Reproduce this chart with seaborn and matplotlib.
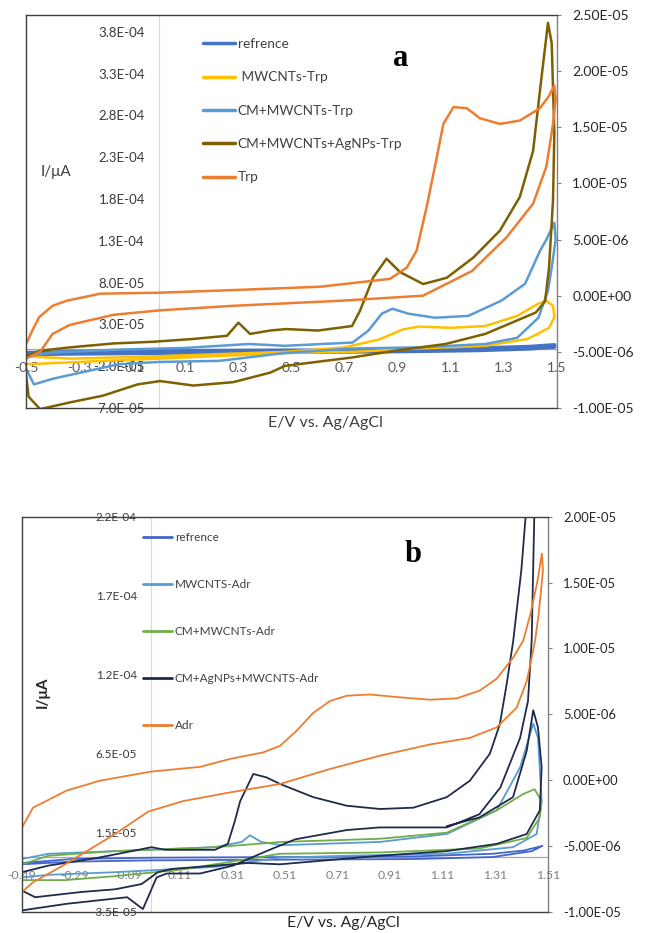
import numpy as np
import pandas as pd
import matplotlib
matplotlib.use("Agg")
import matplotlib.pyplot as plt
import seaborn as sns
from matplotlib.lines import Line2D

sns.set_style("white")
plt.rcParams['font.family'] = ['Lato', 'DejaVu Sans']

SCALE = 1e-6  # currents below are in units of 1e-6 A (right axis)

# ---------------- Panel a (Trp) ----------------
A_NAMES = ["refrence", " MWCNTs-Trp", "CM+MWCNTs-Trp", "CM+MWCNTs+AgNPs-Trp", "Trp"]
A_COLORS = ["#4472C4", "#FFC000", "#5B9BD5", "#7F6000", "#ED7D31"]

ref_a_E = [-0.5, -0.3, 0.0, 0.3, 0.6, 0.9, 1.2, 1.4, 1.49, 1.49, 1.4, 1.2, 0.9, 0.6, 0.3, 0.0, -0.3, -0.5]
ref_a_I = [-5.1, -5.0, -4.95, -4.9, -4.88, -4.82, -4.7, -4.55, -4.4, -4.55, -4.7, -4.85, -4.95, -5.0, -5.05, -5.1, -5.15, -5.2]

mw_a_E = [-0.5, -0.33, -0.08, 0.23, 0.475, 0.70, 0.83, 0.92, 0.98, 1.10, 1.23, 1.35, 1.43, 1.46, 1.485,
          1.49, 1.47, 1.39, 1.23, 0.98, 0.73, 0.475, 0.2, -0.1, -0.3, -0.5]
mw_a_I = [-5.4, -5.6, -5.45, -5.2, -5.0, -4.6, -3.9, -3.0, -2.75, -2.86, -2.7, -1.8, -0.7, -0.45, -0.9,
          -1.9, -2.86, -3.85, -4.46, -4.7, -5.0, -5.1, -5.4, -5.7, -5.9, -6.1]

cm_a_E = [-0.5, -0.4, -0.15, 0.1, 0.34, 0.475, 0.73, 0.79, 0.84, 0.88, 0.94, 1.04, 1.165, 1.29, 1.38, 1.436, 1.46, 1.49,
          1.495, 1.48, 1.466, 1.43, 1.35, 1.23, 0.98, 0.73, 0.475, 0.23, 0.0, -0.15, -0.4, -0.47, -0.5]
cm_a_I = [-5.4, -5.06, -4.8, -4.65, -4.3, -4.46, -4.17, -3.1, -1.6, -1.16, -1.6, -1.96, -1.8, -0.45, 1.07, 4.0, 5.0, 6.5,
          5.0, 2.5, 0.45, -1.96, -3.75, -4.3, -4.6, -4.7, -5.1, -5.8, -5.9, -6.1, -7.4, -7.9, -6.5]

ag_a_E = [-0.5, -0.447, -0.334, -0.17, -0.02, 0.13, 0.257, 0.30, 0.344, 0.42, 0.48, 0.60, 0.728, 0.758, 0.807, 0.858,
          0.909, 0.996, 1.085, 1.185, 1.285, 1.36, 1.41, 1.436, 1.466,
          1.48, 1.49, 1.485, 1.47, 1.455, 1.42, 1.35, 1.23, 1.08, 0.89, 0.728, 0.475, 0.42, 0.28, 0.13, 0.005, -0.08,
          -0.21, -0.334, -0.447, -0.49, -0.5]
ag_a_I = [-5.4, -4.9, -4.6, -4.25, -4.1, -3.85, -3.57, -2.4, -3.4, -3.1, -2.97, -3.1, -2.7, -1.34, 1.6, 3.3,
          2.1, 1.04, 1.6, 3.4, 5.8, 8.8, 12.9, 18.3, 24.3,
          22.5, 14.5, 8.5, 2.5, -0.5, -1.5, -2.2, -3.4, -4.3, -4.9, -5.5, -6.25, -6.85, -7.7, -8.0, -7.6, -7.9,
          -8.9, -9.5, -10.1, -9.0, -7.0]

trp_a_E = [-0.5, -0.47, -0.45, -0.4, -0.347, -0.22, 0.005, 0.28, 0.607, 0.871, 0.934, 0.971, 1.009, 1.047, 1.072,
           1.11, 1.16, 1.21, 1.285, 1.36, 1.436, 1.47, 1.49,
           1.495, 1.485, 1.46, 1.41, 1.31, 1.18, 0.995, 0.683, 0.28, 0.005, -0.17, -0.335, -0.40, -0.447, -0.5]
trp_a_I = [-4.3, -2.8, -1.9, -0.9, -0.45, 0.18, 0.27, 0.5, 0.8, 1.5, 2.5, 4.0, 7.9, 12.3, 15.3,
           16.8, 16.7, 15.8, 15.3, 15.6, 16.7, 17.8, 18.7,
           17.5, 15.3, 11.5, 8.2, 5.2, 2.2, 0.0, -0.45, -0.9, -1.3, -1.7, -2.6, -3.4, -5.0, -5.6]

A_DATA = [(ref_a_E, ref_a_I), (mw_a_E, mw_a_I), (cm_a_E, cm_a_I), (ag_a_E, ag_a_I), (trp_a_E, trp_a_I)]
A_LW = [3.0, 1.8, 1.8, 1.8, 1.8]

A_XTICKS = [-0.5, -0.3, -0.1, 0.1, 0.3, 0.5, 0.7, 0.9, 1.1, 1.3, 1.5]
A_XTICKLABELS = ["-0.5", "-0.3", "-0.1", "0.1", "0.3", "0.5", "0.7", "0.9", "1.1", "1.3", "1.5"]
A_LTICKS = [-7e-5, -2e-5, 3e-5, 8e-5, 1.3e-4, 1.8e-4, 2.3e-4, 2.8e-4, 3.3e-4, 3.8e-4]
A_LTICKLABELS = ["-7.0E-05", "-2.0E-05", "3.0E-05", "8.0E-05", "1.3E-04", "1.8E-04", "2.3E-04", "2.8E-04",
                 "3.3E-04", "3.8E-04"]
A_RTICKS = [-1.0e-5, -5.0e-6, 0.0, 5.0e-6, 1.0e-5, 1.5e-5, 2.0e-5, 2.5e-5]

# ---------------- Panel b (Adr) ----------------
B_NAMES = ["refrence", "MWCNTS-Adr", "CM+MWCNTs-Adr", "CM+AgNPs+MWCNTS-Adr", "Adr"]
B_COLORS = ["#4466CC", "#5B9BD5", "#70AD47", "#1E2B4A", "#ED7D31"]

ref_b_E = [-0.49, -0.3, 0.0, 0.5, 1.0, 1.3, 1.42, 1.49, 1.45, 1.3, 1.0, 0.5, 0.0, -0.3, -0.49]
ref_b_I = [-6.3, -6.0, -5.9, -5.85, -5.8, -5.6, -5.35, -5.0, -5.4, -5.85, -6.0, -6.05, -6.1, -6.2, -6.4]

mw_b_E = [-0.49, -0.39, -0.136, 0.244, 0.346, 0.377, 0.42, 0.498, 0.872, 1.126, 1.316, 1.405, 1.455,
          1.473, 1.487, 1.468, 1.378, 1.126, 0.745, 0.49, 0.244, -0.136, -0.39, -0.49]
mw_b_I = [-6.0, -5.6, -5.4, -5.1, -4.7, -4.2, -4.7, -4.95, -4.7, -4.1, -2.3, 0.96, 4.3,
          3.2, -1.6, -4.1, -5.1, -5.6, -5.75, -5.9, -6.6, -7.0, -7.2, -7.4]

gr_b_E = [-0.49, -0.39, -0.136, 0.244, 0.498, 0.872, 1.126, 1.316, 1.416, 1.46,
          1.487, 1.48, 1.43, 1.25, 0.872, 0.491, 0.37, 0.117, -0.136, -0.326, -0.49]
gr_b_I = [-6.4, -5.75, -5.4, -5.1, -4.7, -4.46, -4.0, -2.3, -1.07, -0.7,
          -1.6, -2.84, -4.4, -5.2, -5.5, -5.6, -6.0, -6.8, -7.3, -7.6, -7.6]

ag_b_E = [-0.49, -0.39, -0.20, -0.073, 0.003, 0.054, 0.244, 0.293, 0.32, 0.34, 0.39, 0.44, 0.492, 0.618, 0.745,
          0.872, 0.999, 1.126, 1.214, 1.29, 1.328, 1.354, 1.379, 1.41, 1.43,
          1.46, 1.449, 1.435, 1.405, 1.33, 1.25, 1.126, 0.87, 0.745, 0.55, 0.44, 0.313, 0.187, 0.06, 0.022,
          -0.03, -0.09, -0.32, -0.49,
          -0.49, -0.44, -0.263, -0.136, -0.035, 0.027, 0.08, 0.244, 0.37, 0.491, 0.872, 1.126, 1.316, 1.43,
          1.48, 1.487, 1.473, 1.455,
          1.43, 1.378, 1.25, 1.126]
ag_b_I = [-7.0, -6.5, -5.9, -5.4, -5.1, -5.3, -5.3, -4.85, -3.1, -1.6, 0.46, 0.2, -0.3, -1.3, -1.95,
          -2.2, -2.1, -1.3, -0.05, 2.0, 4.25, 7.3, 10.6, 16.0, 21.0,
          21.0, 10.6, 6.0, 3.2, -0.56, -2.6, -3.6, -3.6, -3.8, -4.5, -5.4, -6.5, -7.1, -7.1, -7.4,
          -9.8, -8.9, -9.4, -9.9,
          -8.4, -8.9, -8.5, -8.3, -7.9, -7.0, -6.75, -6.5, -6.3, -6.4, -5.75, -5.4, -4.85, -4.1,
          -2.3, 0.96, 4.0, 5.3,
          2.2, -1.3, -2.84, -3.5]

adr_b_E = [-0.49, -0.448, -0.32, -0.193, -0.003, 0.187, 0.301, 0.428, 0.492, 0.555, 0.618, 0.682, 0.745, 0.834,
           0.936, 1.062, 1.164, 1.252, 1.316, 1.379, 1.417, 1.443, 1.47, 1.488,
           1.492, 1.475, 1.462, 1.449, 1.43, 1.392, 1.316, 1.214, 1.062, 0.872, 0.682, 0.492, 0.301, 0.123,
           -0.01, -0.136, -0.326, -0.45, -0.49]
adr_b_I = [-3.6, -2.1, -0.8, -0.05, 0.63, 1.0, 1.6, 2.1, 2.6, 3.75, 5.1, 6.0, 6.4, 6.5,
           6.3, 6.1, 6.2, 6.8, 7.7, 9.3, 10.6, 12.5, 15.0, 17.2,
           15.9, 12.5, 10.6, 9.3, 7.5, 5.5, 4.0, 3.2, 2.7, 1.85, 0.84, -0.3, -0.94, -1.6,
           -2.4, -4.1, -6.4, -7.8, -8.5]

B_DATA = [(ref_b_E, ref_b_I), (mw_b_E, mw_b_I), (gr_b_E, gr_b_I), (ag_b_E, ag_b_I), (adr_b_E, adr_b_I)]
B_LW = [1.3, 1.3, 1.3, 1.3, 1.3]

B_XTICKS = [-0.49, -0.29, -0.09, 0.11, 0.31, 0.51, 0.71, 0.91, 1.11, 1.31, 1.51]
B_XTICKLABELS = ["-0.49", "-0.29", "-0.09", "0.11", "0.31", "0.51", "0.71", "0.91", "1.11", "1.31", "1.51"]
B_LTICKS = list(np.linspace(-3.5e-5, 2.2e-4, 6))
B_LTICKLABELS = ["-3.5E-05", "1.5E-05", "6.5E-05", "1.2E-04", "1.7E-04", "2.2E-04"]
B_RTICKS = [-1.0e-5, -5.0e-6, 0.0, 5.0e-6, 1.0e-5, 1.5e-5, 2.0e-5]


def to_df(E, I):
    return pd.DataFrame({"E": E, "I": np.asarray(I) * SCALE})


def build_panel(rect, colors, data, lws, xlim, xticks, xticklabels, lylim, lticks, lticklabels,
                rylim, rticks, xcolor, lcolor, xsize, lsize, rsize):
    ax = fig.add_axes(rect)
    ax2 = ax.twinx()
    # primary (left) axis: crosses at x=0, horizontal axis at y=0
    ax.set_xlim(*xlim)
    ax.set_ylim(*lylim)
    for s in ["top", "right"]:
        ax.spines[s].set_visible(False)
    ax.spines["left"].set_position(("data", 0))
    ax.spines["left"].set_color("#D9D9D9")
    ax.spines["left"].set_linewidth(0.9)
    ax.spines["bottom"].set_position(("data", 0))
    ax.spines["bottom"].set_color("#A6A6A6")
    ax.spines["bottom"].set_linewidth(0.9)
    ax.set_yticks(lticks)
    ax.set_yticklabels(lticklabels)
    ax.tick_params(axis="y", left=False, length=0, pad=10, labelsize=lsize, labelcolor=lcolor)
    ax.set_xticks(xticks)
    ax.set_xticklabels(xticklabels)
    ax.tick_params(axis="x", bottom=False, length=0, pad=9, labelsize=xsize, labelcolor=xcolor)
    ax.set_xlabel("")
    ax.set_ylabel("")

    for (E, I), c, lw in zip(data, colors, lws):
        sns.lineplot(data=to_df(E, I), x="E", y="I", sort=False, estimator=None, color=c,
                     linewidth=lw, ax=ax2)
    ax2.set_xlim(*xlim)
    ax2.set_ylim(*rylim)
    ax2.set_yticks(rticks)
    ax2.set_yticklabels([f"{v:.2E}" for v in rticks])
    ax2.tick_params(axis="y", right=True, left=False, labelright=True, labelleft=False,
                    direction="out", length=3, color="#808080", pad=8, labelsize=rsize, labelcolor="#262626")
    ax2.set_xlabel("")
    ax2.set_ylabel("")
    for s in ["left", "top", "bottom"]:
        ax2.spines[s].set_visible(True)
        ax2.spines[s].set_color("#404040")
        ax2.spines[s].set_linewidth(1.0)
    ax2.spines["right"].set_color("#808080")
    ax2.spines["right"].set_linewidth(1.0)
    return ax, ax2


fig = plt.figure(figsize=(6.49, 9.33), dpi=100)
W, H = 649.0, 933.0

axA, axA2 = build_panel([26 / W, 1 - 408 / H, 531 / W, 393 / H], A_COLORS, A_DATA, A_LW,
                        (-0.5, 1.5), A_XTICKS, A_XTICKLABELS, (-7e-5, 4.0e-4), A_LTICKS, A_LTICKLABELS,
                        (-1e-5, 2.5e-5), A_RTICKS, "#595959", "#3A3A3A", 10, 9.5, 10)
axB, axB2 = build_panel([22 / W, 1 - 911.7 / H, 525.7 / W, 395 / H], B_COLORS, B_DATA, B_LW,
                        (-0.49, 1.51), B_XTICKS, B_XTICKLABELS, (-3.5e-5, 2.2e-4), B_LTICKS, B_LTICKLABELS,
                        (-1e-5, 2e-5), B_RTICKS, "#7F7F7F", "#3A3A3A", 8.8, 8.5, 9.4)

# legends
hA = [Line2D([], [], color=c, lw=2.5) for c in A_COLORS]
legA = axA2.legend(hA, A_NAMES, loc="upper left", bbox_to_anchor=(203 / W, 1 - 38 / H),
                   bbox_transform=fig.transFigure, frameon=False, fontsize=9.8, handlelength=2.35,
                   handletextpad=0.2, labelspacing=1.57, borderpad=0, borderaxespad=0)
for t in legA.get_texts():
    t.set_color("#404040")

hB = [Line2D([], [], color=c, lw=2.0) for c in B_COLORS]
legB = axB2.legend(hB, B_NAMES, loc="upper left", bbox_to_anchor=(143 / W, 1 - 532 / H),
                   bbox_transform=fig.transFigure, frameon=False, fontsize=8.5, handlelength=2.45,
                   handletextpad=0.25, labelspacing=3.05, borderpad=0, borderaxespad=0)
for t in legB.get_texts():
    t.set_color("#404040")

# axis titles
fig.text(56 / W, 1 - 172 / H, "I/μA", ha="center", va="center", fontsize=11, color="#404040")
fig.text(325 / W, 1 - 423 / H, "E/V vs. Ag/AgCl", ha="center", va="center", fontsize=11.5, color="#404040")
fig.text(43 / W, 1 - 692 / H, "I/μA", ha="center", va="center", fontsize=11, rotation=90,
         color="#262626", fontweight="bold")
fig.text(343 / W, 1 - 923 / H, "E/V vs. Ag/AgCl", ha="center", va="center", fontsize=11.3, color="#262626")

# panel letters
fig.text(401 / W, 1 - 58 / H, "a", ha="center", va="center", fontsize=22, fontweight="bold",
         family=["Liberation Serif", "DejaVu Serif"], color="black")
fig.text(413 / W, 1 - 555 / H, "b", ha="center", va="center", fontsize=22, fontweight="bold",
         family=["Liberation Serif", "DejaVu Serif"], color="black")

fig.savefig("out.png", dpi=100)
